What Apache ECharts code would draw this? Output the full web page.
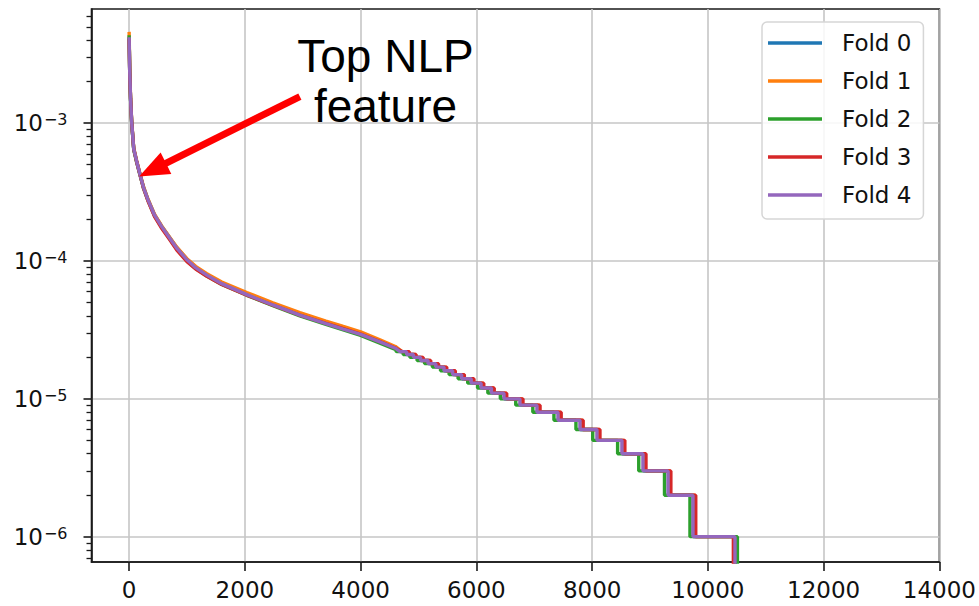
<!DOCTYPE html>
<html>
<head>
<meta charset="utf-8">
<script src="https://cdn.jsdelivr.net/npm/echarts@6/dist/echarts.min.js"></script>
<style>
html,body{margin:0;padding:0;background:#fff;}
#chart{width:979px;height:606px;}
</style>
</head>
<body>
<div id="chart"></div>
<script>
// ---------------- DATA ----------------
const foldNames = ['Fold 0', 'Fold 1', 'Fold 2', 'Fold 3', 'Fold 4'];
const foldColors = ['#1f77b4', '#ff7f0e', '#2ca02c', '#d62728', '#9467bd'];

// smooth (head) part of the sorted importance curve: feature rank
const headRank = [0, 10, 25, 45, 80, 130, 185, 250, 323, 440, 565, 700, 824, 1000, 1150, 1343, 1600, 2034, 2484, 2950, 3400, 3700, 4000, 4333, 4600];
const headFold0 = [4.2e-3, 2.42e-3, 1.5e-3, 1.0e-3, 6.5e-4, 5.3e-4, 4.3e-4, 3.42e-4, 2.81e-4, 2.16e-4, 1.78e-4, 1.48e-4, 1.25e-4, 1.03e-4, 9.0e-5, 7.95e-5, 6.9e-5, 5.75e-5, 4.85e-5, 4.1e-5, 3.56e-5, 3.25e-5, 2.97e-5, 2.61e-5, 2.35e-5];
const headFold1 = [4.6e-3, 2.5e-3, 1.55e-3, 1.02e-3, 6.6e-4, 5.35e-4, 4.35e-4, 3.45e-4, 2.83e-4, 2.18e-4, 1.79e-4, 1.49e-4, 1.26e-4, 1.04e-4, 9.15e-5, 8.1e-5, 7.05e-5, 5.9e-5, 4.98e-5, 4.22e-5, 3.67e-5, 3.35e-5, 3.06e-5, 2.68e-5, 2.4e-5];
const headFold2 = [4.35e-3, 2.35e-3, 1.48e-3, 0.99e-3, 6.4e-4, 5.2e-4, 4.25e-4, 3.36e-4, 2.77e-4, 2.12e-4, 1.75e-4, 1.45e-4, 1.22e-4, 1.0e-4, 8.8e-5, 7.78e-5, 6.76e-5, 5.64e-5, 4.74e-5, 4.0e-5, 3.47e-5, 3.16e-5, 2.89e-5, 2.54e-5, 2.28e-5];
const headFold3 = [4.1e-3, 2.35e-3, 1.5e-3, 1.0e-3, 6.5e-4, 5.25e-4, 4.28e-4, 3.36e-4, 2.75e-4, 2.1e-4, 1.72e-4, 1.43e-4, 1.2e-4, 0.99e-4, 8.75e-5, 7.75e-5, 6.75e-5, 5.65e-5, 4.78e-5, 4.05e-5, 3.53e-5, 3.23e-5, 2.95e-5, 2.6e-5, 2.34e-5];
const headFold4 = [4.2e-3, 2.4e-3, 1.5e-3, 1.0e-3, 6.5e-4, 5.3e-4, 4.3e-4, 3.4e-4, 2.8e-4, 2.15e-4, 1.77e-4, 1.47e-4, 1.24e-4, 1.02e-4, 8.95e-5, 7.9e-5, 6.85e-5, 5.7e-5, 4.8e-5, 4.05e-5, 3.52e-5, 3.21e-5, 2.94e-5, 2.59e-5, 2.33e-5];

// quantised tail: importance levels and the rank at which each level starts
const tailLevels = [2.2e-5, 2.1e-5, 2.0e-5, 1.9e-5, 1.8e-5, 1.7e-5, 1.6e-5, 1.5e-5, 1.4e-5, 1.3e-5, 1.2e-5, 1.1e-5, 1.0e-5, 9e-6, 8e-6, 7e-6, 6e-6, 5e-6, 4e-6, 3e-6, 2e-6, 1e-6];
const tailStartFold0 = [4690, 4808, 4925, 5046, 5178, 5312, 5452, 5603, 5757, 5922, 6093, 6272, 6488, 6765, 7060, 7420, 7800, 8095, 8525, 8890, 9320, 9750];
const tailStartFold1 = [4715, 4830, 4948, 5070, 5200, 5336, 5476, 5625, 5780, 5946, 6115, 6296, 6512, 6790, 7085, 7450, 7830, 8120, 8550, 8915, 9345, 9775];
const tailStartFold2 = [4620, 4735, 4850, 4975, 5105, 5240, 5380, 5528, 5684, 5850, 6020, 6198, 6414, 6680, 6975, 7340, 7720, 8010, 8440, 8805, 9250, 9690];
const tailStartFold3 = [4725, 4842, 4958, 5080, 5212, 5347, 5488, 5636, 5792, 5958, 6128, 6308, 6524, 6805, 7100, 7465, 7845, 8135, 8565, 8930, 9360, 9790];
const tailStartFold4 = [4680, 4795, 4912, 5035, 5165, 5300, 5440, 5590, 5745, 5910, 6080, 6260, 6476, 6752, 7046, 7410, 7790, 8083, 8515, 8878, 9312, 9742];
// rank where importance becomes zero
const zeroRank = [10475, 10455, 10510, 10440, 10468];

// axis ticks
const xTicks = [0, 2000, 4000, 6000, 8000, 10000, 12000, 14000];
const yMajorTicks = [1e-6, 1e-5, 1e-4, 1e-3];
const yMinorMultipliers = [2, 3, 4, 5, 6, 7, 8, 9];
const yMinorDecades = [1e-7, 1e-6, 1e-5, 1e-4, 1e-3];
const xRange = [-650, 14000];
const yRange = [6.55e-7, 6.74e-3];

// annotation (data coordinates)
const arrowTail = [2950, 1.56e-3];
const arrowTip = [173, 4.1e-4];
const annotationText = 'Top NLP\nfeature';

// ---------------- BUILD ----------------
const heads = [headFold0, headFold1, headFold2, headFold3, headFold4];
const tails = [tailStartFold0, tailStartFold1, tailStartFold2, tailStartFold3, tailStartFold4];

function buildFold(k) {
  const pts = headRank.map((r, i) => [r, heads[k][i]]);
  const starts = tails[k];
  for (let i = 0; i < tailLevels.length; i++) {
    const next = i < tailLevels.length - 1 ? starts[i + 1] : zeroRank[k];
    pts.push([starts[i], tailLevels[i]]);
    pts.push([next, tailLevels[i]]);
  }
  pts.push([zeroRank[k], 1e-9]);
  return pts;
}

const yMinorTicks = [];
yMinorDecades.forEach(d => yMinorMultipliers.forEach(m => {
  const v = d * m;
  if (v >= yRange[0] && v <= yRange[1]) yMinorTicks.push(v);
}));

const axisColor = '#1a1a1a';
const gridColor = '#c6c6c6';
const labelFont = 'DejaVu Sans';

const chart = echarts.init(document.getElementById('chart'), null, {renderer: 'svg'});

const option = {
  backgroundColor: '#fff',
  animation: false,
  color: foldColors,
  grid: {left: 91.5, right: 39.5, top: 9, bottom: 44, show: true, borderColor: axisColor, borderWidth: 1.6, backgroundColor: 'transparent'},
  legend: {
    data: foldNames,
    orient: 'vertical',
    left: 762, top: 22,
    icon: 'rect',
    itemWidth: 54, itemHeight: 3.5,
    itemGap: 10,
    padding: [7, 12, 10, 6],
    backgroundColor: 'rgba(255,255,255,0.85)',
    borderColor: '#d6d6d6', borderWidth: 1.5, borderRadius: 5,
    textStyle: {fontFamily: labelFont, fontSize: 23, color: '#111', lineHeight: 28, padding: [0, 0, 0, 15]}
  },
  xAxis: {
    type: 'value', min: xRange[0], max: xRange[1], splitNumber: 7,
    axisLine: {show: true, onZero: false, lineStyle: {color: axisColor, width: 1.6}},
    axisTick: {show: true, length: 9, customValues: xTicks, lineStyle: {color: axisColor, width: 1.6}},
    axisLabel: {customValues: xTicks, margin: 16, fontFamily: labelFont, fontSize: 23, color: '#111', formatter: v => String(v)},
    splitLine: {show: true, lineStyle: {color: gridColor, width: 1.6}}
  },
  yAxis: [{
    type: 'log', logBase: 10, min: yRange[0], max: yRange[1], position: 'left',
    axisLine: {show: true, onZero: false, lineStyle: {color: axisColor, width: 1.6}},
    axisTick: {show: true, length: 8, customValues: yMajorTicks, lineStyle: {color: axisColor, width: 1.6}},
    axisLabel: {
      customValues: yMajorTicks, margin: 24,
      formatter: v => '{b|10}{s|\u2212' + (-Math.round(Math.log10(v))) + '}',
      rich: {
        b: {fontFamily: labelFont, fontSize: 23, color: '#111'},
        s: {fontFamily: labelFont, fontSize: 16, color: '#111', verticalAlign: 'top', padding: [0, 0, 0, 1]}
      }
    },
    splitLine: {show: true, lineStyle: {color: gridColor, width: 1.6}}
  }, {
    type: 'log', logBase: 10, min: yRange[0], max: yRange[1], position: 'left', offset: 0,
    axisLine: {show: false, onZero: false},
    axisTick: {show: true, length: 5, customValues: yMinorTicks, lineStyle: {color: axisColor, width: 1.3}},
    axisLabel: {show: false},
    splitLine: {show: false}
  }],
  series: foldNames.map((name, k) => ({
    name: name,
    type: 'line',
    yAxisIndex: 0,
    data: buildFold(k),
    showSymbol: false,
    symbol: 'none',
    clip: true,
    lineStyle: {width: 3.4, color: foldColors[k]},
    z: 2 + k
  }))
};
chart.setOption(option);

// annotation arrow & text, positioned from data coordinates
const p0 = chart.convertToPixel({xAxisIndex: 0, yAxisIndex: 0}, arrowTail);
const p1 = chart.convertToPixel({xAxisIndex: 0, yAxisIndex: 0}, arrowTip);
const dx = p1[0] - p0[0], dy = p1[1] - p0[1];
const len = Math.sqrt(dx * dx + dy * dy);
const ux = dx / len, uy = dy / len;
const headLen = 30, headHalf = 12;
const bx = p1[0] - ux * headLen, by = p1[1] - uy * headLen;
const nx = -uy, ny = ux;

chart.setOption({
  graphic: [
    {type: 'line', z: 100, shape: {x1: p0[0], y1: p0[1], x2: bx + ux * 2, y2: by + uy * 2}, style: {stroke: '#ff0000', lineWidth: 7}},
    {type: 'polygon', z: 100, shape: {points: [[p1[0], p1[1]], [bx + nx * headHalf, by + ny * headHalf], [bx - nx * headHalf, by - ny * headHalf]]}, style: {fill: '#ff0000'}},
    {type: 'text', z: 100, x: 385.5, y: 31, style: {text: annotationText, fontFamily: 'Liberation Sans', fontSize: 46, lineHeight: 50, fill: '#000', align: 'center', verticalAlign: 'top'}}
  ]
});
</script>
</body>
</html>
